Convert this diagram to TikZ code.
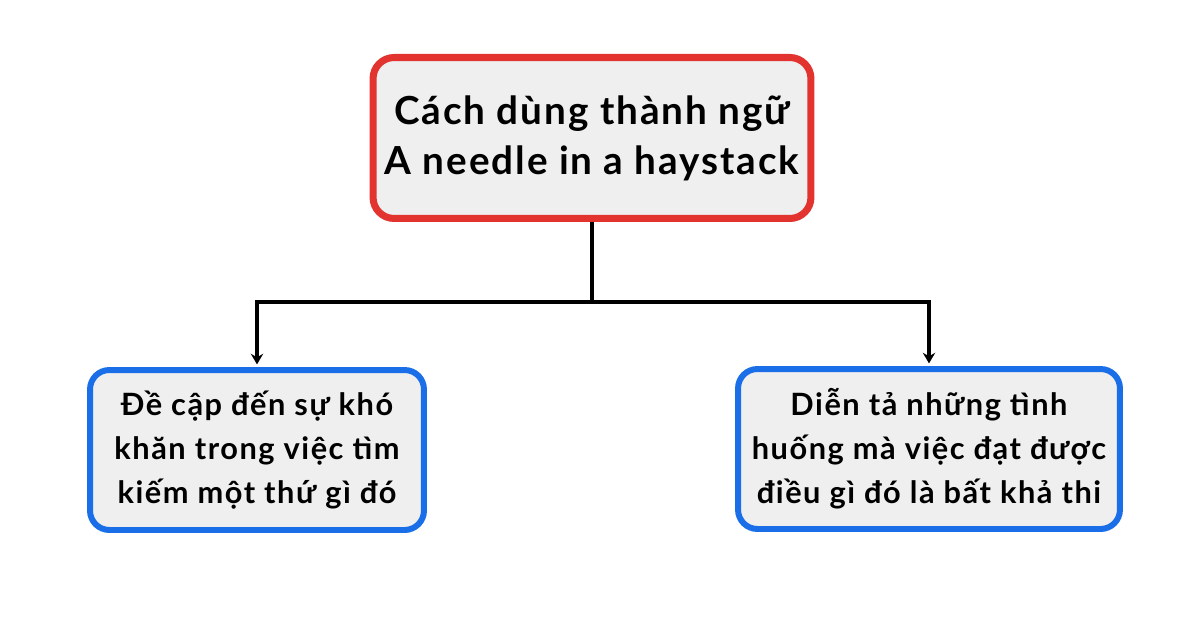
\documentclass[tikz,border=0pt]{standalone}
\usepackage{fontspec}
\setmainfont{Lato}
\usetikzlibrary{arrows.meta}

\definecolor{boxfill}{HTML}{EFEFEF}
\definecolor{idiomred}{HTML}{E2332F}
\definecolor{usageblue}{HTML}{1A6FE8}

\begin{document}
\begin{tikzpicture}[x=0.02cm, y=-0.02cm,
        titlebox/.style={draw=idiomred, fill=boxfill, line width=4pt, rounded corners=12pt,
            minimum width=8.76cm, minimum height=3.22cm, align=center,
            font=\fontsize{22}{28.5}\selectfont\bfseries\addfontfeature{LetterSpace=5}},
        usagebox/.style={draw=usageblue, fill=boxfill, line width=3.4pt, rounded corners=11pt,
            minimum height=3.2cm, align=center,
            font=\fontsize{17.5}{25}\selectfont\bfseries\addfontfeature{LetterSpace=5}},
        link/.style={line width=2.1pt, black},
        arrow/.style={link, -{Stealth[length=6pt, width=7pt]}, shorten >=1.5pt}]
    \useasboundingbox (0,0) rectangle (1200,628);
    \node[titlebox] (title) at (592,138) {Cách dùng thành ngữ\\A needle in a haystack};
    \node[usagebox, minimum width=6.68cm] (usage1) at (257,450) {Đề cập đến sự khó\\khăn trong việc tìm\\kiếm một thứ gì đó};
    \node[usagebox, minimum width=7.64cm] (usage2) at (929,449) {Diễn tả những tình\\huống mà việc đạt được\\điều gì đó là bất khả thi};
    \coordinate (hub) at (592,302);
    \draw[link] (title.south) -- (hub);
    \draw[arrow] (hub) -| (usage1.north);
    \draw[arrow] (hub) -| (usage2.north);
\end{tikzpicture}
\end{document}
